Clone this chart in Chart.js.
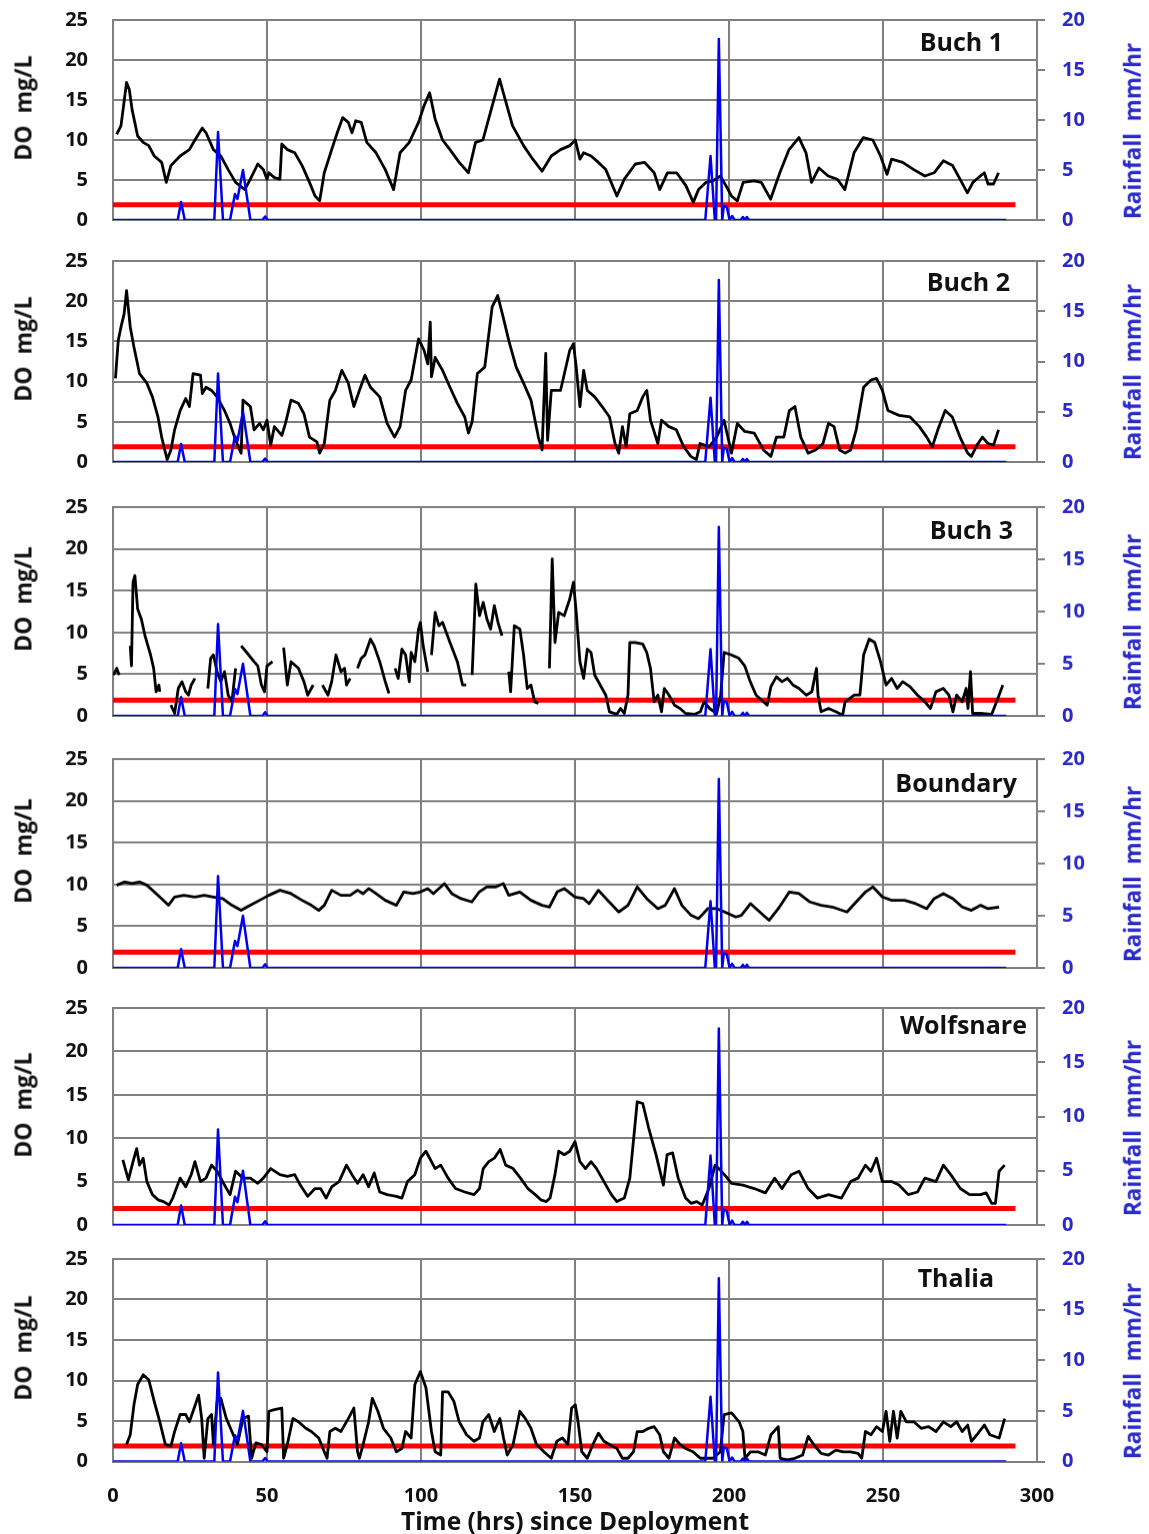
<!DOCTYPE html>
<html>
<head>
<meta charset="utf-8">
<script src="https://cdn.jsdelivr.net/npm/chart.js@4.4.1/dist/chart.umd.min.js"></script>
<style>
  html, body { margin: 0; padding: 0; background: #fff; }
  body { width: 1149px; height: 1534px; position: relative; overflow: hidden;
         font-family: "Open Sans", Lato, sans-serif; }
  canvas { position: absolute; left: 0; }
  .lbl { position: absolute; font-weight: 700; white-space: pre; line-height: 1; }
  .ytl { color: #111; font-size: 23px; transform: translate(-50%, -50%) rotate(-90deg); }
  .ytr { color: #2a2acb; font-size: 22.5px; transform: translate(-50%, -50%) rotate(-90deg); }
  .site { color: #111; font-size: 25px; transform: translate(-100%, -50%); }
  .xt { color: #111; font-size: 24.5px; transform: translate(-50%, -50%); }
</style>
</head>
<body>
<script>
// ---- data: [hours since deployment, value] ----
const siteNames = ["Buch 1", "Buch 2", "Buch 3", "Boundary", "Wolfsnare", "Thalia"];

const xTicks = [0, 50, 100, 150, 200, 250, 300];
const doTicks = [0, 5, 10, 15, 20, 25];
const rainTicks = [0, 5, 10, 15, 20];

// DO threshold (mg/L) and its extent in hours
const doLimit = 1.9;
const limitEnd = 293;

// rainfall intensity, mm/hr
const rain = [[0,0],[21,0],[22.1,1.8],[23.3,0],[32.9,0],[34.1,8.8],[35.7,0],[38,0],[39.6,2.6],[40.4,2.1],
  [42.2,5.0],[44.6,0],[48.5,0],[49.4,0.35],[50.2,0],[192.3,0],[194,6.4],[195.4,0],[195.8,0],[196.7,18.1],
  [197.8,0],[198.3,1.4],[199.3,1.3],[200.2,0],[201,0.4],[201.8,0],[203.8,0],[204.5,0.3],[205.2,0],
  [205.8,0.3],[206.5,0],[290,0]];

// dissolved oxygen, mg/L
const buch1 = [[1.2,10.7],[2.6,11.8],[4.4,17.2],[5.3,16.3],[6.2,13.8],[8,10.5],[9.8,9.7],[11.6,9.3],[13.4,8],
  [15.8,7.2],[17.3,4.7],[18.8,6.8],[21.8,8],[24.8,8.8],[26.6,10],[29,11.5],[30.2,10.9],[32.6,8.8],[35,8],
  [37.4,6.3],[39.8,4.7],[42.8,3.8],[44.6,5.1],[47,7],[48.8,6.3],[50,5.1],[50.6,5.9],[52.4,5.3],[54.2,5.1],
  [54.8,9.5],[56.6,8.8],[59,8.4],[61.4,6.8],[63.8,4.7],[65.6,3],[67.1,2.4],[68.6,5.9],[71,8.8],[72.8,10.9],
  [74.6,12.8],[76.4,12.2],[77.6,10.9],[78.8,12.4],[80.6,12.2],[82.4,9.7],[85.4,8.4],[88.4,6.3],[91.1,3.8],
  [93.2,8.4],[96.2,9.7],[99.2,12.2],[101,14.3],[102.8,15.9],[104.6,12.6],[107,10],[109.4,8.8],[112.4,7.2],
  [115.4,5.9],[117.7,9.7],[120.1,10],[122.5,13.4],[125.5,17.6],[127.3,15.1],[129.7,11.8],[133.3,9.3],
  [136.3,7.6],[139.3,6.1],[142.3,8],[145.3,8.8],[148.3,9.3],[150.1,10],[151.6,7.6],[152.8,8.4],[155.2,8],
  [157.6,7.2],[160,6.3],[163.6,3],[166,5.1],[169.6,7],[172.6,7.2],[175.7,5.9],[177.5,3.8],[180,5.9],[183,5.9],
  [186,4.3],[188.4,2.2],[190.1,3.8],[192.5,4.7],[194.8,4.9],[197.2,5.5],[199,4.3],[200.8,3],[202.7,2.4],
  [204.6,4.7],[208.1,4.9],[210.5,4.7],[213.5,2.6],[216.5,5.9],[219.5,8.8],[222.7,10.3],[225,8.4],[226.8,4.7],
  [229.2,6.5],[232.2,5.5],[235.2,5.1],[237.6,3.8],[240.6,8.4],[243.6,10.3],[246.7,10],[249.2,8],[251.3,5.7],
  [252.8,7.6],[256.4,7.2],[260,6.3],[263.6,5.5],[266.6,5.9],[269.6,7.4],[272.6,6.8],[275,5.1],[277.4,3.4],
  [279.2,4.7],[281.6,5.5],[282.9,5.9],[284.1,4.5],[285.9,4.5],[287.5,5.9]];

const buch2 = [[0.8,10.4],[1.7,15.1],[2.6,16.8],[3.6,18.4],[4.4,21.3],[5.6,16.8],[6.8,14.3],[8.6,11],[11,9.8],
  [12.8,8.1],[14.6,5.6],[15.8,3.1],[16.8,1.5],[17.6,0.3],[18.8,1.5],[20,4],[21.8,6.4],[23.6,7.9],[24.8,6.9],
  [26,11],[28.4,10.8],[29,8.5],[30.2,9.3],[32,8.9],[33.8,8.1],[36.2,6.4],[38,4.8],[39.8,2.7],[41.6,1.1],
  [42.2,7.7],[44.6,6.9],[45.8,4],[47.6,4.8],[48.8,4],[50,5.2],[51.2,2.1],[52.4,4.4],[54.8,3.3],[56,4.8],
  [57.8,7.7],[60.2,7.3],[62,6],[63.8,3.1],[66.2,2.5],[67.1,1.1],[68.6,2.3],[70.4,7.7],[72.2,8.9],[74.3,11.4],
  [76.4,9.8],[78.2,6.9],[80,8.9],[81.8,10.8],[83.6,9.3],[86.6,8.1],[89,4.8],[91.4,3.1],[93.2,4.4],[95,8.9],
  [96.8,10.2],[99.2,15.3],[101,13.9],[102.2,12.2],[103,17.4],[103.4,10.6],[104.6,13],[107,11.4],[109.4,9.3],
  [111.8,7.3],[114.2,5.6],[115.4,3.6],[116.6,5],[118.3,11],[120.7,11.8],[123.1,19.3],[124.9,20.7],
  [126.7,18],[128.5,15.1],[130.9,11.8],[133.3,9.8],[135.7,7.7],[138.1,3.1],[139.3,1.5],[140.5,13.5],
  [141.1,2.7],[142.3,8.9],[145.3,8.9],[148.3,13.9],[149.5,14.7],[150.4,11.8],[151.6,6.9],[152.8,11.4],
  [154,8.9],[156.4,8.1],[158.8,6.9],[161.2,5.6],[163,2.3],[164.2,1.1],[165.4,4.4],[166.6,1.9],[167.8,6],
  [170.2,6.4],[172,8.1],[173.3,8.9],[174.5,5.2],[176.9,2.3],[178.1,5.2],[180.5,4.4],[182.9,4],[185.3,1.9],
  [187.6,0.7],[189.4,0.3],[190.6,2.3],[193.6,1.9],[196,3.1],[198.4,5.2],[200.8,1.1],[202.7,4.8],[205.1,3.8],
  [208.2,3.6],[211.2,1.5],[213.6,0.7],[215.4,3.1],[217.8,3.1],[219.6,6.4],[221.4,6.9],[223.3,3.1],
  [225.7,1.1],[228.1,1.5],[230.5,2.3],[232.3,4.8],[234.1,4.4],[235.9,1.5],[237.7,1.1],[239.5,1.5],[241.3,4],
  [243.7,9.3],[246.1,10.2],[247.9,10.4],[249.8,8.9],[251.6,6.4],[255.2,5.8],[258.8,5.6],[261.8,4.4],
  [264.2,3.1],[266,1.9],[267.8,4],[270.2,6.4],[272.5,5.6],[275,3.1],[277.5,1.1],[278.7,0.7],[280.5,2.1],
  [282.3,3.1],[284.1,2.3],[285.9,2.1],[287.5,4]];

const buch3 = [[0.2,4.9],[1.2,5.7],[2,4.9],[3,null],
  [5.6,8.4],[6,6],[6.5,16],[7.1,16.8],[8,12.8],[9.2,11.6],[10.4,9.6],[12.2,7.3],[13.2,5.7],[14,2.9],[14.9,3.7],
  [15.2,2.9],[17,null],
  [18.8,1.3],[20,0.3],[21.2,3.3],[22.4,4.1],[23.6,2.9],[24.5,2.5],[25.4,3.7],[26.6,4.5],[28,null],
  [30.8,3.3],[31.7,6.9],[32.6,7.3],[33.8,5.3],[35,4.1],[36.2,5.3],[37.4,2.5],[38.6,1.7],[39.8,5.7],[40.6,null],
  [41.6,8.4],[43.4,7.6],[45.8,6.5],[47,6],[48.2,3.7],[49.2,2.9],[50,6],[51.8,6.5],[53,null],
  [55.4,8.2],[56.6,3.7],[57.8,6.5],[60.2,5.7],[62,4.1],[63.2,2.5],[65,3.7],[66,null],
  [68,3.7],[69.8,2.5],[71,4.1],[72.4,7.3],[74,5.3],[75.2,5.7],[75.8,3.7],[77,4.5],[78,null],
  [79.4,5.7],[80.6,6.9],[81.8,7.3],[83.6,9.2],[84.8,8.4],[86.6,6.5],[88.4,4.1],[89.6,2.7],[90.5,null],
  [91.6,5.7],[92.6,4.5],[93.8,8],[95,7.3],[96.2,4.1],[96.8,7.6],[98,6.5],[99.2,10.4],[99.8,11.2],[100.7,8.4],
  [102.2,5.3],[102.8,null],
  [103.4,7.3],[104.6,12.4],[105.8,10.8],[107,11.2],[109.4,8.8],[111.8,6.5],[113.5,3.7],[114.7,3.7],[115.6,null],
  [116.6,4.9],[117.8,15.8],[119,12],[120.2,13.6],[121.4,11.6],[122.6,10.4],[123.8,13.2],[125,11.2],
  [126.3,9.6],[127.4,null],
  [128.5,5.3],[129.1,2.9],[130.3,10.8],[132.1,10.4],[133.3,7.3],[134.5,3.3],[135.7,3.7],[136.9,1.7],
  [138.1,1.5],[140,null],
  [141.7,5.7],[142.6,18.8],[143.5,8.8],[144.7,12.4],[146.5,12],[148.3,14],[149.5,16],[150.4,12.4],
  [151.6,6.5],[152.8,4.5],[154,8],[155.2,7.6],[156.4,4.9],[158.2,3.7],[160,2.5],[161.2,0.5],[163.6,0.2],
  [164.8,0.9],[166,0.3],[167.2,2.5],[167.8,8.8],[169.6,8.8],[172,8.6],[173.3,7.6],[174.5,5.7],[175.7,1.7],
  [176.9,2.5],[178.1,0.5],[179,3.3],[180.5,2.5],[182.3,1.3],[184.1,0.9],[185.9,0.3],[188.9,0.2],[190.7,0.5],
  [191.9,1.7],[193.7,0.9],[196,0.3],[197.3,2.5],[198.4,7.6],[200.8,7.3],[203.2,6.9],[205.1,6],[206.9,4.1],
  [208.8,2.5],[210.6,1.9],[212.4,1.3],[213.6,3.5],[215.4,4.7],[217.2,4.1],[219,4.5],[220.8,3.7],[222.7,3.3],
  [225.1,2.5],[226.9,2.9],[228.4,5.7],[228.9,2.5],[229.9,0.5],[232.3,0.9],[234.7,0.5],[236.9,0.1],[237.7,1.7],
  [240.7,2.5],[242.5,2.5],[243.7,7.3],[245.5,9.2],[247.3,8.8],[249.2,6.5],[251,3.7],[252.8,4.5],[254.6,3.3],
  [256.4,4.1],[258.8,3.5],[261.2,2.5],[263.6,1.7],[265.4,0.9],[267.2,2.9],[269.6,3.3],[271.4,2.5],
  [272.7,0.5],[273.9,2.5],[275.7,1.7],[277,3.3],[277.6,0.9],[278.4,5.3],[279.1,0.3],[281.7,0.3],[285.3,0.2],
  [287.7,2.5],[288.9,3.7]];

const boundary = [[1.2,9.9],[3.8,10.3],[6.2,10.1],[8.6,10.3],[11,9.9],[13.4,9.1],[15.8,8.3],[18,7.5],[20,8.5],
  [23,8.7],[26.6,8.5],[29.6,8.7],[32.6,8.5],[35.6,8.3],[38.6,7.5],[41.6,6.9],[44.6,7.5],[47.6,8.1],[50.6,8.7],
  [54.2,9.3],[57.8,8.9],[61.4,8.1],[64.4,7.5],[66.8,6.9],[68.6,7.5],[71,9.3],[74,8.7],[77,8.7],[79.4,9.3],
  [81.2,8.9],[83,9.5],[85.4,8.9],[88.4,8.1],[92,7.5],[94.4,9.1],[97.4,8.9],[99.8,9.1],[102.2,9.5],[104,8.9],
  [107.6,10.1],[110,8.9],[113,8.3],[116.5,7.9],[118.9,9.1],[121.3,9.7],[124.3,9.7],[126.7,10.1],[128.5,8.7],
  [132.1,9.1],[135.7,8.1],[139.3,7.5],[141.7,7.3],[144.2,9.1],[146.5,9.5],[150,8.5],[152.8,8.3],[154.6,7.7],
  [157.6,9.3],[160.6,8.1],[164.2,6.7],[167.2,7.5],[170.2,9.7],[173.3,8.3],[176.9,7.1],[179.3,7.5],
  [182.3,9.5],[184.7,7.5],[187.7,6.3],[190.1,5.9],[193.1,7.1],[196.1,7.1],[198.6,6.7],[202.2,6.1],[204,6.3],
  [207,7.7],[210,6.7],[213,5.7],[216,7.1],[219.6,9.1],[222.7,8.9],[226.3,7.9],[229.9,7.5],[233.5,7.3],
  [238.3,6.7],[241.3,7.9],[244.3,9.1],[246.7,9.7],[249.8,8.5],[252.8,8.1],[257,8.1],[260.6,7.7],[264.2,7.1],
  [266.6,8.3],[269.6,8.9],[272.7,8.3],[275.7,7.3],[278.7,6.9],[281.7,7.5],[284.1,7.1],[287.7,7.3]];

const wolfsnare = [[3.2,7.5],[5,5.2],[6.5,7.3],[7.7,8.8],[8.6,6.9],[9.8,7.7],[11,5],[12.8,3.5],[14.6,2.9],
  [16.4,2.7],[18.2,2.3],[19.4,3.1],[21.8,5.4],[23.6,4.4],[25.4,5.8],[26.6,7.3],[28.4,5],[30.2,5.4],[32,6.9],
  [33.8,6.2],[36.2,4.6],[38,3.5],[39.8,6.2],[42.2,5.4],[44.6,5.4],[47,4.8],[48.8,5.4],[51.2,6.5],[54.2,5.8],
  [56.6,5.6],[59,5.8],[60.8,4.6],[63.2,3.3],[65.6,4.2],[67.4,4.2],[69.2,3.1],[71,4.4],[73.4,5],[75.8,6.9],
  [77.6,5.8],[79.4,4.8],[81.2,5.8],[83,4.4],[84.8,6],[86.6,3.8],[89,3.5],[92,3.3],[93.8,3.1],[95.6,5],
  [98,5.8],[99.8,7.7],[101.6,8.5],[103.4,7.3],[104.6,6.5],[106.4,6.9],[108.8,5.4],[111.2,4.2],[114.2,3.8],
  [117.2,3.5],[119,4.2],[120.2,6.5],[122,7.3],[123.8,7.7],[125.7,8.7],[127.5,6.9],[129.9,6.5],[132.3,5.4],
  [134.7,4.2],[137.1,3.5],[138.9,2.9],[140.7,2.7],[141.9,3.1],[143.5,5.8],[144.7,8.5],[146.5,8.1],
  [148.3,8.5],[150,9.6],[151.6,7.3],[153.4,6.5],[155.2,7.3],[157,6.5],[159.4,5],[161.8,3.5],[163.6,2.7],
  [166,3.1],[167.8,5.4],[170.2,14.2],[172,14],[173.9,11.2],[176.3,8.1],[178.7,4.6],[179.9,8.1],[181.7,8.3],
  [183.5,5.4],[185.9,3.1],[187.7,2.5],[189.5,2.7],[191.3,2.3],[193.5,4.2],[195.5,6.9],[197.2,6.3],[199,5.6],
  [200.8,4.8],[204.5,4.6],[208.2,4.2],[211.8,3.7],[214.8,5.4],[217.2,4.2],[220.2,5.8],[222.7,6.2],
  [225.7,4.2],[228.7,3.1],[232.3,3.5],[236.5,3.1],[239.5,5],[241.9,5.4],[244.3,6.9],[246.1,6.2],[247.9,7.7],
  [249.8,5],[252.8,5],[255.2,4.6],[258.2,3.5],[261.2,3.8],[263.6,5.4],[267.2,5],[269.6,6.9],[272,5.8],
  [275.1,4.2],[278.1,3.5],[281.7,3.5],[283.5,3.7],[285.3,2.5],[286.5,2.5],[287.7,6.2],[289.5,6.9]];

const thalia = [[4.4,2.1],[5.6,3.3],[6.8,7],[8,9.5],[9.8,10.7],[11.6,10.1],[13.4,7.4],[15.2,4.9],[17,2.1],
  [18.8,1.9],[20,3.7],[21.8,5.8],[23.6,5.8],[24.8,4.9],[26,6.2],[27.8,8.2],[28.8,5.3],[29.6,0.4],[30.8,5.3],
  [32,5.8],[32.6,2.1],[33.8,7.4],[35,7.8],[36.8,5.3],[38.6,3.7],[40.4,2.1],[42.2,5.3],[44,5.6],[45,0.4],
  [46.4,2.3],[48.2,2.1],[50,1.2],[50.6,6.2],[52.4,6.4],[54.8,6.6],[55.4,0.4],[56.6,2.1],[58.4,5.3],
  [60.2,4.9],[62.6,4.1],[64.4,3.7],[66.8,2.9],[68.6,1.2],[69.5,0.4],[70.4,3.7],[72.2,4.1],[74,3.7],
  [76.4,5.3],[78.2,6.6],[79.4,1.2],[80,0.4],[81.2,2.1],[83,4.9],[84.2,7.8],[86,6.2],[87.8,4.1],[90.2,2.9],
  [92,1.2],[93.8,1.6],[95,3.7],[96.8,2.9],[98,9.5],[99.8,11.1],[101.6,9.1],[103.4,3.7],[104.6,1.2],
  [106.4,0.8],[107,8.6],[108.8,8.6],[110.7,7.4],[112.4,4.9],[114.8,3.3],[117.2,2.5],[119,2.9],[120.1,4.9],
  [122,5.8],[123.8,3.7],[125.6,5.3],[126.8,2.9],[128,0.8],[129.9,2.1],[132.1,6.2],[133.9,5.3],[135.7,4.1],
  [137.5,2.1],[139.9,1.2],[142.3,0.4],[144.1,2.5],[145.9,2.9],[147.7,2.1],[148.9,6.6],[150.1,7],[151,4.9],
  [152.2,1.2],[154,0.4],[155.8,2.1],[157.6,3.5],[159.4,2.5],[161.2,2.1],[163.6,1.6],[165.4,0.4],[167.2,0.4],
  [169,1.2],[170.2,3.7],[172,3.7],[173.9,4.1],[175.7,4.3],[177.5,3.3],[178.7,1.2],[180.5,0.4],[182.3,2.9],
  [184.1,2.1],[185.9,1.6],[188.3,1.2],[190.7,0.4],[192.5,0.4],[194.8,0.4],[197.2,1.2],[198.4,5.8],[200.8,6],
  [203.3,4.9],[204.5,3.7],[205.2,0.4],[207,1.2],[209.4,1.2],[211.8,0.8],[213.6,3.3],[216,4.3],[216.6,0.4],
  [219,0.2],[221.4,0.4],[223.9,0.8],[225.7,3.1],[227.5,2.1],[229.9,1],[232.3,0.8],[234.7,1.4],[237.1,1.2],
  [239.5,1.2],[241.9,1],[243.1,0.4],[244.3,3.7],[246.1,3.3],[247.9,4.3],[249.8,3.7],[251,6.2],[252.2,2.5],
  [253.4,6.2],[254.6,2.9],[255.8,6.2],[257.6,4.9],[260,4.9],[262.4,4.1],[264.8,4.3],[267.2,3.7],[269.6,4.9],
  [272,4.3],[273.9,4.9],[275.7,3.7],[277.5,4.5],[278.7,2.5],[280.5,3.3],[282.9,4.5],[284.7,3.3],[287.7,2.9],
  [289.5,5.3]];

const doSeries = [buch1, buch2, buch3, boundary, wolfsnare, thalia];

// ---- layout (page pixels) ----
const PAGE_W = 1149, PAGE_H = 1534;
const PLOT_LEFT = 113, PLOT_RIGHT = 1037;
const panelTops = [20, 260.5, 507, 759, 1008, 1259];
const panelBottoms = [220, 462, 715.5, 967.5, 1225, 1461.5];
const siteLabelPos = [[1003, 41], [1010, 281], [1013, 529], [1017, 782], [1027, 1024], [994, 1277]];

const GRID = '#808080';
const TICK_FONT = { family: '"Open Sans", Lato, sans-serif', size: 20, weight: 'bold' };
const RAIN_TEXT = '#2a2acb';
const RAIN_LINE = '#0000f0';

const toXY = arr => arr.map(p => ({ x: p[0], y: p[1] }));

function addLabel(cls, text, left, top) {
  const d = document.createElement('div');
  d.className = 'lbl ' + cls;
  d.textContent = text;
  d.style.left = left + 'px';
  d.style.top = top + 'px';
  document.body.appendChild(d);
}

// vertical axes: keep the plot box where it is; the layout padding leaves room for the end labels
const noVerticalPadding = s => { s.paddingTop = 0; s.paddingBottom = 0; };

function makePanel(i) {
  const PAD = 15;
  const isBottom = i === panelTops.length - 1;
  const plotH = panelBottoms[i] - panelTops[i];
  const top = panelTops[i] - PAD;
  const H = isBottom ? PAGE_H - top : plotH + 2 * PAD;
  const xAxisH = isBottom ? H - PAD - plotH : 0;

  const cv = document.createElement('canvas');
  cv.width = PAGE_W; cv.height = H;
  cv.style.top = top + 'px';
  cv.style.width = PAGE_W + 'px'; cv.style.height = H + 'px';
  document.body.appendChild(cv);

  new Chart(cv, {
    type: 'line',
    data: {
      datasets: [
        { label: 'Rainfall', data: toXY(rain), yAxisID: 'y2', borderColor: RAIN_LINE, borderWidth: 2.5, order: 0 },
        { label: siteNames[i], data: toXY(doSeries[i]), yAxisID: 'y', borderColor: '#000', borderWidth: 2.8, order: 1 },
        { label: 'DO limit', data: [{ x: 0, y: doLimit }, { x: limitEnd, y: doLimit }], yAxisID: 'y',
          borderColor: '#ff0000', borderWidth: 5, order: 2 }
      ]
    },
    options: {
      responsive: false,
      animation: false,
      devicePixelRatio: 1,
      spanGaps: false,
      layout: { padding: { top: PAD, bottom: isBottom ? 0 : PAD, left: 0, right: 0 } },
      elements: { point: { radius: 0 }, line: { tension: 0, borderJoinStyle: 'round' } },
      plugins: { legend: { display: false }, tooltip: { enabled: false } },
      scales: {
        x: {
          type: 'linear', min: xTicks[0], max: xTicks[xTicks.length - 1],
          afterBuildTicks: s => { s.ticks = xTicks.map(v => ({ value: v })); },
          ticks: { display: isBottom, padding: 23, font: TICK_FONT, color: '#111', maxRotation: 0 },
          grid: { color: GRID, lineWidth: 2, drawTicks: false },
          border: { color: GRID, width: 2 },
          afterFit: s => { s.height = xAxisH; }
        },
        y: {
          position: 'left', min: doTicks[0], max: doTicks[doTicks.length - 1],
          afterBuildTicks: s => { s.ticks = doTicks.map(v => ({ value: v })); },
          ticks: { padding: 25, font: TICK_FONT, color: '#111' },
          grid: { color: GRID, lineWidth: 2, drawTicks: false },
          border: { color: GRID, width: 2 },
          afterFit: s => { s.width = PLOT_LEFT; noVerticalPadding(s); }
        },
        y2: {
          position: 'right', min: rainTicks[0], max: rainTicks[rainTicks.length - 1],
          afterBuildTicks: s => { s.ticks = rainTicks.map(v => ({ value: v })); },
          ticks: { padding: 17, font: TICK_FONT, color: RAIN_TEXT },
          grid: { drawOnChartArea: false, color: GRID, lineWidth: 2, tickLength: 8 },
          border: { color: GRID, width: 2 },
          afterFit: s => { s.width = PAGE_W - PLOT_RIGHT; noVerticalPadding(s); }
        }
      }
    }
  });

  const mid = (panelTops[i] + panelBottoms[i]) / 2;
  addLabel('ytl', 'DO  mg/L', 23, mid - 12);
  addLabel('ytr', 'Rainfall  mm/hr', 1133, mid + 11);
  addLabel('site', siteNames[i], siteLabelPos[i][0], siteLabelPos[i][1]);
}

for (let i = 0; i < panelTops.length; i++) makePanel(i);
addLabel('xt', 'Time (hrs) since Deployment', 575, 1521);
</script>
</body>
</html>
